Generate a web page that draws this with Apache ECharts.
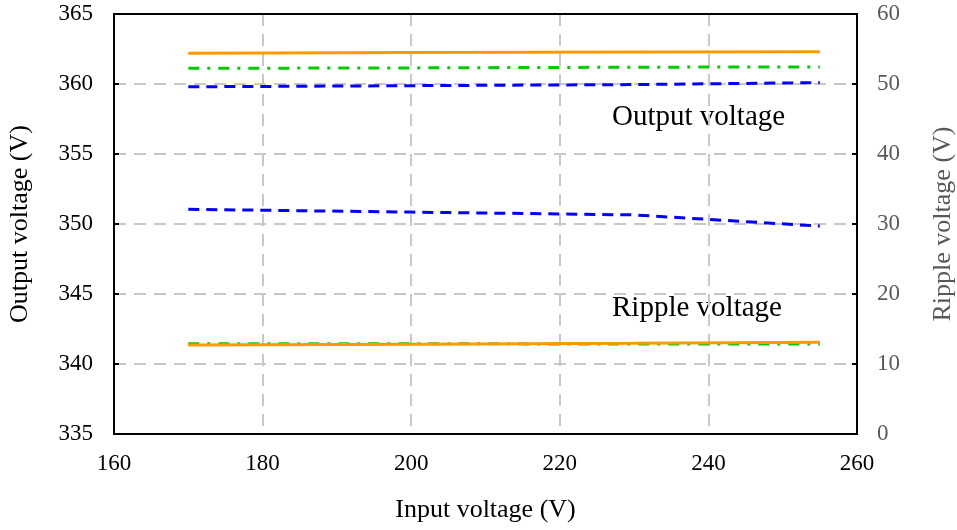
<!DOCTYPE html>
<html>
<head>
<meta charset="utf-8">
<script src="https://cdn.jsdelivr.net/npm/echarts@6/dist/echarts.min.js"></script>
<style>
  html, body { margin: 0; padding: 0; background: #fff; }
  #chart { width: 957px; height: 530px; }
</style>
</head>
<body>
<div id="chart"></div>
<script>
// Input voltage sample points (V)
const inputVoltage = [170, 200, 230, 255];

// Output voltage (left axis, V)
const outputOrange = [362.2, 362.25, 362.28, 362.3];
const outputGreen  = [361.12, 361.15, 361.2, 361.22];
const outputBlue   = [359.8, 359.88, 359.96, 360.1];

// Ripple voltage (right axis, V)
const rippleBlue   = [32.1, 31.7, 31.3, 29.7];
const rippleGreen  = [12.9, 12.88, 12.87, 12.85];
const rippleOrange = [12.7, 12.82, 12.95, 13.1];

// Axis ranges and tick steps
const xRange = { min: 160, max: 260, interval: 20 };
const leftRange = { min: 335, max: 365, interval: 5 };
const rightRange = { min: 0, max: 60, interval: 10 };

const FONT = '"Liberation Serif", "Times New Roman", serif';
const ORANGE = '#FF9900';
const GREEN = '#00CC00';
const BLUE = '#0000FF';

const pairs = vals => inputVoltage.map((x, i) => [x, vals[i]]);

const dashed = [11, 7];
const dashDot = [11, 8, 3, 8];

function line(name, vals, color, type, yAxisIndex) {
  return {
    name, type: 'line', data: pairs(vals), yAxisIndex, xAxisIndex: 0,
    showSymbol: false, symbol: 'none', smooth: false,
    lineStyle: { color, width: 3, type },
    emphasis: { disabled: true }, silent: true, animation: false
  };
}

const gridLine = { show: true, lineStyle: { color: '#c8c8c8', width: 2, type: [12, 8] } };
const blackLine = { show: true, lineStyle: { color: '#000', width: 2 } };

const chart = echarts.init(document.getElementById('chart'));
chart.setOption({
  backgroundColor: '#fff',
  animation: false,
  grid: { left: 114, right: 100, top: 14, bottom: 96, outerBoundsMode: 'none', containLabel: false },
  xAxis: [
    {
      type: 'value', min: xRange.min, max: xRange.max, interval: xRange.interval,
      name: 'Input voltage (V)', nameLocation: 'middle', nameGap: 63,
      nameTextStyle: { fontFamily: FONT, fontSize: 26, color: '#000' },
      axisLine: blackLine,
      axisTick: { show: false },
      axisLabel: { fontFamily: FONT, fontSize: 23, color: '#000', margin: 18 },
      splitLine: gridLine
    },
    {
      // top frame edge
      type: 'value', position: 'top', min: xRange.min, max: xRange.max, interval: xRange.interval,
      axisLine: blackLine, axisTick: { show: false }, axisLabel: { show: false },
      splitLine: { show: false }
    }
  ],
  yAxis: [
    {
      type: 'value', min: leftRange.min, max: leftRange.max, interval: leftRange.interval,
      name: 'Output voltage (V)', nameLocation: 'middle', nameGap: 81,
      nameTextStyle: { fontFamily: FONT, fontSize: 26, color: '#000' },
      axisLine: blackLine,
      axisTick: { show: true, inside: true, length: 5, lineStyle: { color: '#000', width: 2 } },
      axisLabel: { fontFamily: FONT, fontSize: 23, color: '#000', margin: 21 },
      splitLine: gridLine
    },
    {
      type: 'value', position: 'right', min: rightRange.min, max: rightRange.max, interval: rightRange.interval,
      name: 'Ripple voltage (V)', nameLocation: 'middle', nameGap: 73,
      nameTextStyle: { fontFamily: FONT, fontSize: 26, color: '#595959' },
      axisLine: blackLine,
      axisTick: { show: true, inside: true, length: 5, lineStyle: { color: '#000', width: 2 } },
      axisLabel: { fontFamily: FONT, fontSize: 23, color: '#595959', margin: 20 },
      splitLine: { show: false }
    }
  ],
  graphic: [
    { type: 'text', left: 612, top: 103, silent: true,
      style: { text: 'Output voltage', fontFamily: FONT, fontSize: 29, fill: '#000' } },
    { type: 'text', left: 612, top: 294, silent: true,
      style: { text: 'Ripple voltage', fontFamily: FONT, fontSize: 29, fill: '#000' } }
  ],
  series: [
    line('Output (blue)', outputBlue, BLUE, dashed, 0),
    line('Output (green)', outputGreen, GREEN, dashDot, 0),
    line('Output (orange)', outputOrange, ORANGE, 'solid', 0),
    line('Ripple (blue)', rippleBlue, BLUE, dashed, 1),
    line('Ripple (green)', rippleGreen, GREEN, dashDot, 1),
    line('Ripple (orange)', rippleOrange, ORANGE, 'solid', 1)
  ]
});
</script>
</body>
</html>
